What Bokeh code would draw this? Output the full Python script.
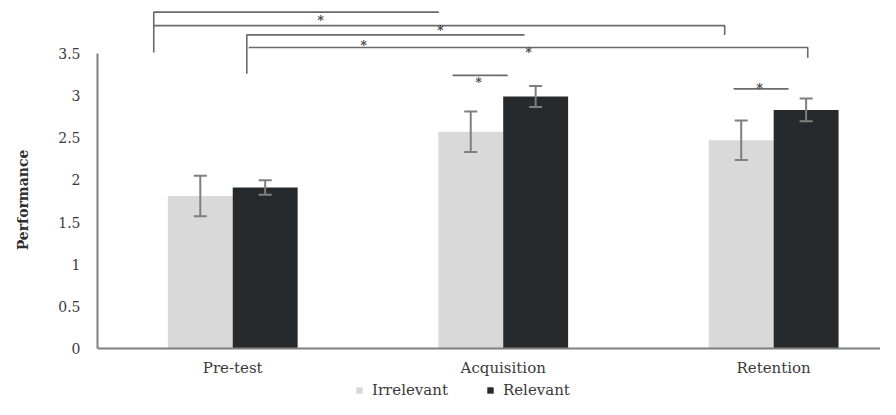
from bokeh.plotting import figure
from bokeh.models import (ColumnDataSource, Range1d, FixedTicker, CustomJSTickFormatter,
                          Whisker, TeeHead, Legend, LegendItem)
from bokeh.transform import dodge
from bokeh.core.properties import value
from bokeh.embed import file_html
from bokeh.resources import INLINE

# ---- data ----
categories = ["Pre-test", "Acquisition", "Retention"]
irrelevant = [1.81, 2.57, 2.47]
irrelevant_err = [0.24, 0.24, 0.235]
relevant = [1.91, 2.99, 2.83]
relevant_err = [0.085, 0.125, 0.135]
y_ticks = [0, 0.5, 1, 1.5, 2, 2.5, 3, 3.5]

# significance brackets (x in category units, y in performance units)
bracket_xs = [[-0.292, -0.292, 0.762],
              [-0.292, 1.819, 1.819],
              [0.052, 0.052, 1.079],
              [0.059, 2.126, 2.126],
              [0.813, 1.017],
              [1.852, 2.055]]
bracket_ys = [[3.51, 3.99, 3.99],
              [3.83, 3.83, 3.72],
              [3.26, 3.72, 3.72],
              [3.57, 3.57, 3.45],
              [3.24, 3.24],
              [3.08, 3.08]]
star_x = [0.325, 0.768, 0.484, 1.094, 0.909, 1.948]
star_y = [3.88, 3.77, 3.59, 3.50, 3.15, 3.08]

LIGHT = "#d9d9d9"
DARK = "#262a2d"
GRAY = "#7f7f7f"
TEXT = "#3a3a3a"
FONT = "DejaVu Serif"

idx = list(range(len(categories)))
src = ColumnDataSource(dict(
    x=idx,
    irr=irrelevant, rel=relevant,
    irr_lo=[v - e for v, e in zip(irrelevant, irrelevant_err)],
    irr_hi=[v + e for v, e in zip(irrelevant, irrelevant_err)],
    rel_lo=[v - e for v, e in zip(relevant, relevant_err)],
    rel_hi=[v + e for v, e in zip(relevant, relevant_err)],
))

p = figure(width=880, height=399, output_backend="svg", toolbar_location=None,
           x_range=Range1d(-0.5, 2.395), y_range=Range1d(-0.605, 4.128),
           min_border_left=97, min_border_right=0, min_border_top=0, min_border_bottom=0)
p.outline_line_color = None
p.xgrid.visible = False
p.ygrid.visible = False

bw = 0.24
r1 = p.vbar(x=dodge("x", -bw / 2, range=p.x_range), top="irr", bottom=0, width=bw,
            source=src, fill_color=LIGHT, line_color=None)
r2 = p.vbar(x=dodge("x", bw / 2, range=p.x_range), top="rel", bottom=0, width=bw,
            source=src, fill_color=DARK, line_color=None)

for base, lo, hi in [(-bw / 2, "irr_lo", "irr_hi"), (bw / 2, "rel_lo", "rel_hi")]:
    w = Whisker(source=src, base=dodge("x", base, range=p.x_range), lower=lo, upper=hi,
                line_color=GRAY, line_width=2, level="overlay",
                upper_head=TeeHead(size=13, line_color=GRAY, line_width=2),
                lower_head=TeeHead(size=13, line_color=GRAY, line_width=2))
    p.add_layout(w)

p.multi_line(xs=bracket_xs, ys=bracket_ys, line_color="#6a6a6a", line_width=1.6)
p.text(x=star_x, y=star_y, text=["*"] * len(star_x), text_font=value(FONT),
       text_font_size="12px", text_color="#404040", text_align="center",
       text_baseline="middle", text_font_style="bold")

# axes
p.xaxis.fixed_location = 0
p.xaxis.ticker = FixedTicker(ticks=idx)
p.xaxis.major_label_overrides = {i: c for i, c in zip(idx, categories)}
p.xaxis.major_tick_line_color = None
p.xaxis.minor_tick_line_color = None
p.xaxis.axis_line_color = GRAY
p.xaxis.axis_line_width = 2
p.xaxis.major_label_standoff = 5
p.xaxis.major_label_text_font = FONT
p.xaxis.major_label_text_font_size = "15px"
p.xaxis.major_label_text_color = TEXT

p.yaxis.ticker = FixedTicker(ticks=y_ticks)
p.yaxis.formatter = CustomJSTickFormatter(code="return tick.toString();")
p.yaxis.bounds = (0, 3.5)
p.yaxis.major_tick_line_color = None
p.yaxis.minor_tick_line_color = None
p.yaxis.axis_line_color = GRAY
p.yaxis.axis_line_width = 2
p.yaxis.major_label_standoff = 11
p.yaxis.major_label_text_font = FONT
p.yaxis.major_label_text_font_size = "14px"
p.yaxis.major_label_text_color = TEXT
p.yaxis.axis_label = "Performance"
p.yaxis.axis_label_text_font = FONT
p.yaxis.axis_label_text_font_size = "14px"
p.yaxis.axis_label_text_font_style = "bold"
p.yaxis.axis_label_text_color = "#303030"
p.yaxis.axis_label_standoff = 24

legend = Legend(items=[LegendItem(label="Irrelevant", renderers=[r1]),
                       LegendItem(label="Relevant", renderers=[r2])],
                orientation="horizontal", location=(258, 0),
                glyph_width=8, glyph_height=8, spacing=38, padding=0, margin=0,
                label_standoff=9, border_line_color=None, background_fill_alpha=0,
                label_text_font=FONT, label_text_font_size="15px",
                label_text_color=TEXT)
p.add_layout(legend, "center")

open("out.html", "w").write(file_html(p, INLINE))
